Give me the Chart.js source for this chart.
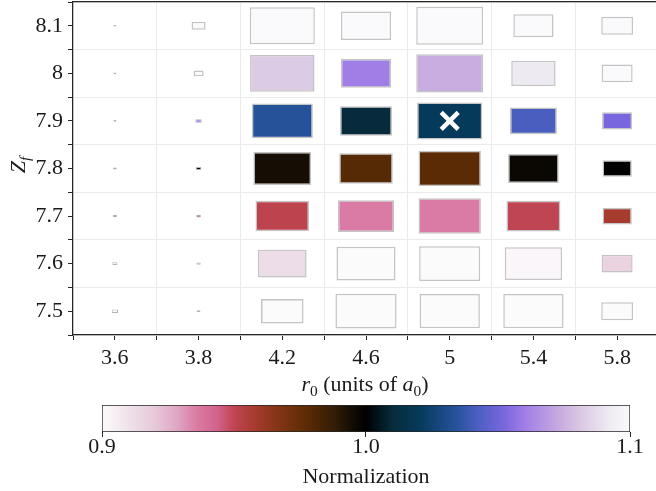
<!DOCTYPE html>
<html>
<head>
<meta charset="utf-8">
<script src="https://cdn.jsdelivr.net/npm/chart.js@4.4.1/dist/chart.umd.min.js"></script>
<style>
  html, body { margin: 0; padding: 0; background: #fff; }
  #page { position: relative; width: 656px; height: 491px; overflow: hidden; font-family: 'Liberation Serif', serif; color: #1a1a1a; }
  #main { position: absolute; left: 0; top: 0; width: 660px; height: 370px; }
  #cbar { position: absolute; left: 0; top: 395px; width: 656px; height: 96px; }
  .title { position: absolute; font-size: 22px; line-height: 26px; white-space: nowrap; text-align: center; }
  #xTitle { left: 215px; top: 371px; width: 300px; }
  #yTitle { left: -7px; top: 152px; width: 50px; transform: rotate(-90deg); }
  sub { font-size: 70%; vertical-align: -0.3em; line-height: 0; }
</style>
</head>
<body>
<div id="page">
  <div id="main"><canvas id="grid"></canvas></div>
  <div id="cbar"><canvas id="colorbar"></canvas></div>
  <div class="title" id="xTitle"><i>r</i><sub>0</sub> (units of <i>a</i><sub>0</sub>)</div>
  <div class="title" id="yTitle"><i>Z</i><sub><i>f</i></sub></div>
</div>
<script>
// axis categories
const rLabels = ['3.6', '3.8', '4.2', '4.6', '5', '5.4', '5.8'];
const zLabels = ['7.5', '7.6', '7.7', '7.8', '7.9', '8', '8.1'];

// box size as a fraction of the cell, one row per Zf (7.5 -> 8.1)
const boxSize = [
  [0.075, 0.045, 0.50, 0.73, 0.72, 0.72, 0.38],
  [0.06, 0.05, 0.58, 0.705, 0.73, 0.685, 0.37],
  [0.05, 0.055, 0.64, 0.67, 0.745, 0.645, 0.35],
  [0.045, 0.065, 0.69, 0.64, 0.745, 0.605, 0.35],
  [0.035, 0.075, 0.73, 0.62, 0.78, 0.56, 0.36],
  [0.035, 0.12, 0.77, 0.60, 0.80, 0.53, 0.37],
  [0.035, 0.167, 0.777, 0.60, 0.80, 0.48, 0.38]
];

// normalization (colour value), same layout
const normalization = [
  [0.9, 0.9, 0.9, 0.9, 0.9, 0.9, 0.9],
  [0.9, 0.9, 0.912, 0.9, 0.9, 0.902, 0.916],
  [0.955, 0.96, 0.951, 0.936, 0.936, 0.95, 0.958],
  [1.1, 1.0, 0.994, 0.979, 0.978, 0.997, 1.0],
  [1.1, 1.06, 1.034, 1.01, 1.02, 1.042, 1.052],
  [1.1, 1.1, 1.082, 1.06, 1.074, 1.092, 1.1],
  [1.1, 1.1, 1.1, 1.1, 1.1, 1.1, 1.1]
];

// best fit marker
const bestR = '5';
const bestZ = '7.9';

// colorbar
const cbTicks = [0.9, 1.0, 1.1];
const cbTickLabels = ['0.9', '1.0', '1.1'];

const cmapStops = [
  [0.00, '#fcfbfc'], [0.06, '#eddde8'], [0.10, '#e6c8da'], [0.14, '#e0a8c4'],
  [0.18, '#d97ba4'], [0.22, '#d2618a'], [0.25, '#c04552'], [0.29, '#a63b2e'],
  [0.34, '#7e3412'], [0.39, '#5a2b05'], [0.44, '#321d06'], [0.47, '#160e04'],
  [0.50, '#000000'], [0.55, '#072b3c'], [0.60, '#053a5a'], [0.67, '#26529a'],
  [0.71, '#4a5ec0'], [0.76, '#7766dd'], [0.80, '#a07ee6'], [0.86, '#c4a6e0'],
  [0.91, '#dccbe4'], [0.96, '#eeeaf2'], [1.00, '#faf9fb']
];

const tickFont = { family: "'Liberation Serif', serif", size: 22 };
const textColor = '#1a1a1a';
const axisColor = '#262626';

function hexToRgb(h) {
  const n = parseInt(h.slice(1), 16);
  return [(n >> 16) & 255, (n >> 8) & 255, n & 255];
}

function normColor(v) {
  const t = Math.min(1, Math.max(0, (v - cbTicks[0]) / (cbTicks[2] - cbTicks[0])));
  for (let k = 1; k < cmapStops.length; k++) {
    const [t1, c1] = cmapStops[k];
    if (t <= t1) {
      const [t0, c0] = cmapStops[k - 1];
      const f = (t - t0) / (t1 - t0);
      const a = hexToRgb(c0);
      const b = hexToRgb(c1);
      const rgb = a.map((x, i) => Math.round(x + (b[i] - x) * f));
      return 'rgb(' + rgb.join(',') + ')';
    }
  }
  return cmapStops[cmapStops.length - 1][1];
}

const datasets = [
  {
    type: 'scatter',
    data: [{ x: rLabels.indexOf(bestR), y: zLabels.indexOf(bestZ) }],
    pointStyle: 'crossRot',
    radius: 12,
    borderColor: '#ffffff',
    borderWidth: 4.5,
    order: 0
  }
];

zLabels.forEach((z, j) => {
  rLabels.forEach((r, i) => {
    const s = boxSize[j][i];
    datasets.push({
      type: 'bar',
      data: [{ x: i, y: [j - s / 2, j + s / 2] }],
      backgroundColor: normColor(normalization[j][i]),
      borderColor: s < 0.1 ? '#b4b4b4' : '#c4c4c4',
      borderWidth: s < 0.1 ? 1 : 1.5,
      borderSkipped: false,
      grouped: false,
      // bar ruler is the half-cell tick spacing, so double it
      categoryPercentage: 2,
      barPercentage: s,
      order: 1
    });
  });
});

const isEdge = (v) => !Number.isInteger(v);
const noPad = (s) => { s.paddingTop = 0; s.paddingBottom = 0; s.paddingLeft = 0; s.paddingRight = 0; };

new Chart(document.getElementById('grid'), {
  type: 'bar',
  data: { datasets: datasets },
  options: {
    responsive: true,
    maintainAspectRatio: false,
    animation: false,
    layout: { autoPadding: false, padding: { top: 2, right: 1, left: 0, bottom: 0 } },
    plugins: { legend: { display: false }, tooltip: { enabled: false } },
    scales: {
      x: {
        type: 'linear',
        min: -0.5,
        max: 6.5,
        offset: false,
        afterFit: (s) => { s.height = 35; noPad(s); },
        ticks: {
          stepSize: 0.5,
          autoSkip: false,
          maxRotation: 0,
          padding: 5,
          font: tickFont,
          color: textColor,
          callback: (v) => (Number.isInteger(v) ? rLabels[v] : '')
        },
        grid: {
          offset: false,
          color: (c) => (c.tick && isEdge(c.tick.value) ? '#ebebeb' : 'rgba(0,0,0,0)'),
          tickColor: axisColor,
          tickLength: 5
        },
        border: { color: axisColor, width: 1.2 }
      },
      xTop: {
        type: 'linear',
        axis: 'x',
        position: 'top',
        min: -0.5,
        max: 6.5,
        ticks: { display: false },
        grid: { drawOnChartArea: false, drawTicks: false },
        border: { color: axisColor, width: 1.2 }
      },
      y: {
        min: -0.5,
        max: 6.5,
        afterFit: (s) => { s.width = 73; noPad(s); },
        ticks: {
          stepSize: 0.5,
          autoSkip: false,
          padding: 5,
          font: tickFont,
          color: textColor,
          callback: (v) => (Number.isInteger(v) ? zLabels[v] : '')
        },
        grid: {
          color: (c) => (c.tick && isEdge(c.tick.value) ? '#ebebeb' : 'rgba(0,0,0,0)'),
          tickColor: axisColor,
          tickLength: 5
        },
        border: { color: axisColor, width: 1.2 }
      }
    }
  }
});

function gradientFill(c) {
  const chart = c.chart;
  if (!chart.chartArea) return 'rgba(0,0,0,0)';
  const xs = chart.scales.x;
  const g = chart.ctx.createLinearGradient(
    xs.getPixelForValue(cbTicks[0]), 0,
    xs.getPixelForValue(cbTicks[2]), 0
  );
  cmapStops.forEach(([t, col]) => g.addColorStop(t, col));
  return g;
}

new Chart(document.getElementById('colorbar'), {
  type: 'bar',
  data: {
    labels: ['Normalization'],
    datasets: [
      {
        data: [[cbTicks[0], cbTicks[2]]],
        backgroundColor: gradientFill,
        borderColor: axisColor,
        borderWidth: 1,
        borderSkipped: false,
        categoryPercentage: 1,
        barPercentage: 1
      }
    ]
  },
  options: {
    indexAxis: 'y',
    responsive: true,
    maintainAspectRatio: false,
    animation: false,
    layout: { padding: { left: 102, right: 26, top: 10, bottom: 0 } },
    plugins: { legend: { display: false }, tooltip: { enabled: false } },
    scales: {
      x: {
        type: 'linear',
        min: cbTicks[0],
        max: cbTicks[2],
        afterBuildTicks: (s) => { s.ticks = cbTicks.map((v) => ({ value: v })); },
        afterFit: (s) => { s.height = 59; },
        ticks: {
          maxRotation: 0,
          padding: -3,
          font: tickFont,
          color: textColor,
          callback: (v, i) => cbTickLabels[i]
        },
        grid: { drawOnChartArea: false, tickLength: 5, tickColor: axisColor },
        border: { display: false },
        title: {
          display: true,
          text: 'Normalization',
          font: tickFont,
          color: textColor,
          padding: { top: 0, bottom: 1 }
        }
      },
      y: { display: false }
    }
  }
});
</script>
</body>
</html>
